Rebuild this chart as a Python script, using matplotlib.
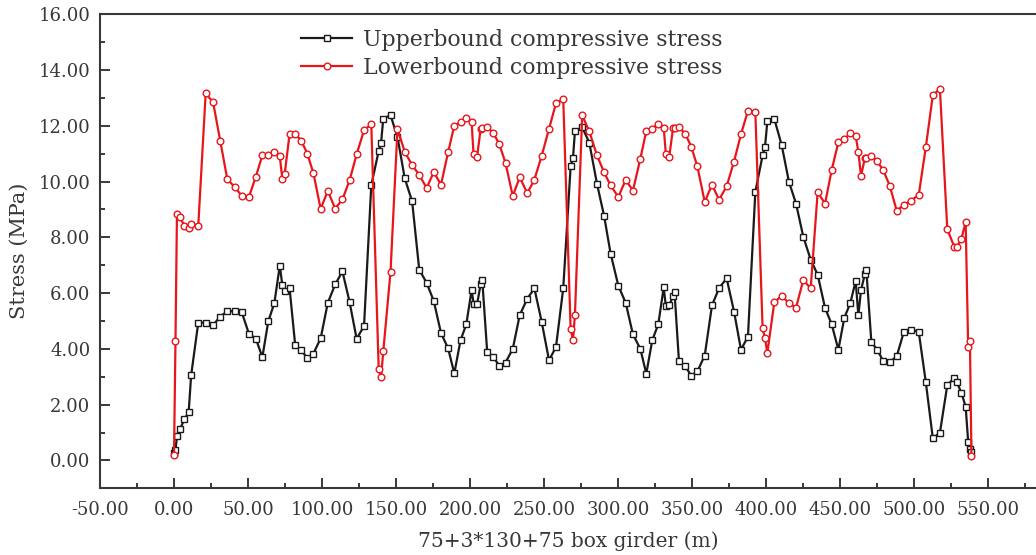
import matplotlib
matplotlib.use("Agg")
import matplotlib.pyplot as plt
from matplotlib.ticker import MultipleLocator, FormatStrFormatter

# stations along the girder (m), shared by both series
station = [0, 1.0, 2.0, 4.0, 7.0, 9.9, 11.6, 16.4, 21.4, 26.4,
           31.2, 36.0, 40.9, 45.8, 50.7, 55.3, 59.7, 63.7, 67.8, 71.5,
           73.2, 74.8, 78.1, 81.9, 86.0, 90.1, 94.2, 99.1, 103.9, 108.9,
           113.8, 118.6, 123.4, 128.4, 133.3, 138.3, 139.9, 141.4, 146.3, 151.0,
           155.9, 160.9, 165.7, 170.7, 175.5, 180.4, 185.2, 189.4, 193.6, 197.5,
           201.1, 202.4, 204.8, 207.2, 208.3, 211.6, 215.8, 219.8, 224.0, 228.9,
           233.6, 238.7, 243.5, 248.4, 253.4, 258.1, 263.0, 268.0, 269.6, 270.9,
           275.8, 280.6, 285.8, 290.6, 295.0, 300.2, 305.2, 310.1, 315.1, 319.1,
           323.2, 327.2, 330.9, 332.3, 334.6, 337.2, 338.2, 341.2, 345.5, 349.5,
           353.6, 358.6, 363.5, 368.3, 373.4, 378.4, 383.1, 387.8, 392.8, 397.7,
           399.3, 400.9, 405.6, 410.6, 415.5, 420.3, 425.2, 430.2, 434.9, 439.9,
           444.4, 448.9, 452.9, 457.0, 460.6, 462.4, 464.2, 466.9, 467.8, 471.2,
           475.2, 479.3, 483.6, 488.3, 493.2, 497.9, 503.2, 508.0, 512.7, 517.5,
           522.5, 527.3, 528.9, 532.0, 534.9, 536.6, 537.8, 538.8]

upper_stress = [0.26, 0.37, 0.87, 1.12, 1.47, 1.73, 3.06, 4.94, 4.94, 4.85,
                5.16, 5.35, 5.35, 5.31, 4.53, 4.37, 3.70, 4.99, 5.64, 6.99,
                6.28, 6.08, 6.17, 4.13, 3.96, 3.66, 3.83, 4.38, 5.65, 6.31,
                6.78, 5.69, 4.36, 4.82, 9.87, 11.10, 11.38, 12.26, 12.38, 11.60,
                10.12, 9.29, 6.84, 6.37, 5.72, 4.57, 4.02, 3.12, 4.31, 4.88,
                6.12, 5.62, 5.61, 6.32, 6.46, 3.90, 3.71, 3.39, 3.51, 4.00,
                5.21, 5.80, 6.17, 4.98, 3.59, 4.07, 6.17, 10.55, 10.85, 11.80,
                11.95, 11.40, 9.92, 8.77, 7.42, 6.27, 5.65, 4.52, 4.00, 3.11,
                4.32, 4.88, 6.21, 5.53, 5.56, 5.89, 6.03, 3.55, 3.37, 3.04,
                3.19, 3.76, 5.56, 6.18, 6.53, 5.34, 3.97, 4.44, 9.64, 10.94,
                11.23, 12.16, 12.25, 11.31, 9.99, 9.21, 8.02, 7.20, 6.66, 5.47,
                4.88, 3.97, 5.11, 5.65, 6.44, 5.20, 6.11, 6.70, 6.82, 4.24,
                3.97, 3.55, 3.53, 3.73, 4.62, 4.69, 4.61, 2.80, 0.80, 0.99,
                2.70, 2.96, 2.81, 2.43, 1.93, 0.67, 0.41, 0.30]

lower_stress = [0.18, 4.28, 8.85, 8.72, 8.42, 8.32, 8.49, 8.42, 13.16, 12.85,
                11.46, 10.09, 9.81, 9.49, 9.46, 10.18, 10.94, 10.96, 11.07, 10.90,
                10.09, 10.28, 11.71, 11.71, 11.47, 11.00, 10.30, 9.02, 9.67, 9.03,
                9.36, 10.04, 10.98, 11.84, 12.06, 3.29, 2.98, 3.91, 6.76, 11.88,
                11.07, 10.59, 10.24, 9.77, 10.34, 9.89, 11.05, 12.01, 12.12, 12.27,
                12.12, 10.98, 10.89, 11.90, 11.92, 11.95, 11.74, 11.34, 10.67, 9.48,
                10.16, 9.58, 10.07, 10.92, 11.90, 12.81, 12.96, 4.71, 4.32, 5.22,
                12.38, 11.80, 10.94, 10.33, 9.86, 9.45, 10.06, 9.68, 10.82, 11.81,
                11.90, 12.08, 11.94, 11.00, 10.88, 11.92, 11.92, 11.95, 11.71, 11.25,
                10.55, 9.27, 9.89, 9.35, 9.83, 10.72, 11.70, 12.54, 12.49, 4.74,
                4.39, 3.85, 5.67, 5.90, 5.64, 5.48, 6.47, 6.17, 9.62, 9.21,
                10.42, 11.41, 11.53, 11.73, 11.64, 11.06, 10.21, 10.86, 10.86, 10.92,
                10.73, 10.40, 9.85, 8.96, 9.16, 9.32, 9.52, 11.24, 13.09, 13.33,
                8.29, 7.65, 7.65, 7.94, 8.55, 4.08, 4.28, 0.17]

text_color = "#383838"
plt.rcParams["font.family"] = ["DejaVu Serif"]

fig = plt.figure(figsize=(10.36, 5.55), dpi=100)
ax = fig.add_axes([100 / 1036, 66.7 / 555, 936 / 1036, 474 / 555])

ax.plot(station, upper_stress, color="#1a1a1a", lw=1.6, marker="s", ms=4.4,
        mfc="white", mec="#1a1a1a", mew=1.0, label="Upperbound compressive stress")
ax.plot(station, lower_stress, color="#e8151b", lw=1.6, marker="o", ms=4.8,
        mfc="white", mec="#e8151b", mew=1.0, label="Lowerbound compressive stress")

ax.set_xlim(-50, -50 + 936 / 1.48)
ax.set_ylim(-1, 16)
ax.xaxis.set_major_locator(MultipleLocator(50))
ax.xaxis.set_minor_locator(MultipleLocator(25))
ax.yaxis.set_major_locator(MultipleLocator(2))
ax.yaxis.set_minor_locator(MultipleLocator(1))
ax.xaxis.set_major_formatter(FormatStrFormatter("%.2f"))
ax.yaxis.set_major_formatter(FormatStrFormatter("%.2f"))

ax.tick_params(which="both", direction="in", top=False, right=False,
               colors=text_color, labelsize=13, width=1.4)
ax.tick_params(which="major", length=7)
ax.tick_params(which="minor", length=3.6)
ax.tick_params(axis="y", pad=7)
ax.tick_params(axis="x", pad=9)

for side in ["left", "bottom", "top"]:
    ax.spines[side].set_linewidth(1.5)
    ax.spines[side].set_color(text_color)
ax.spines["right"].set_visible(False)

ax.set_xlabel("75+3*130+75 box girder (m)", fontsize=14.5, color=text_color, labelpad=9)
ax.set_ylabel("Stress (MPa)", fontsize=15, color=text_color, labelpad=7)

leg = ax.legend(loc="upper left", bbox_to_anchor=(0.2, 1.0), frameon=False,
                fontsize=15.8, handlelength=2.3, handletextpad=0.5,
                labelspacing=0.3, borderaxespad=0.25)
for t in leg.get_texts():
    t.set_color(text_color)

fig.savefig("out.png", dpi=100)
